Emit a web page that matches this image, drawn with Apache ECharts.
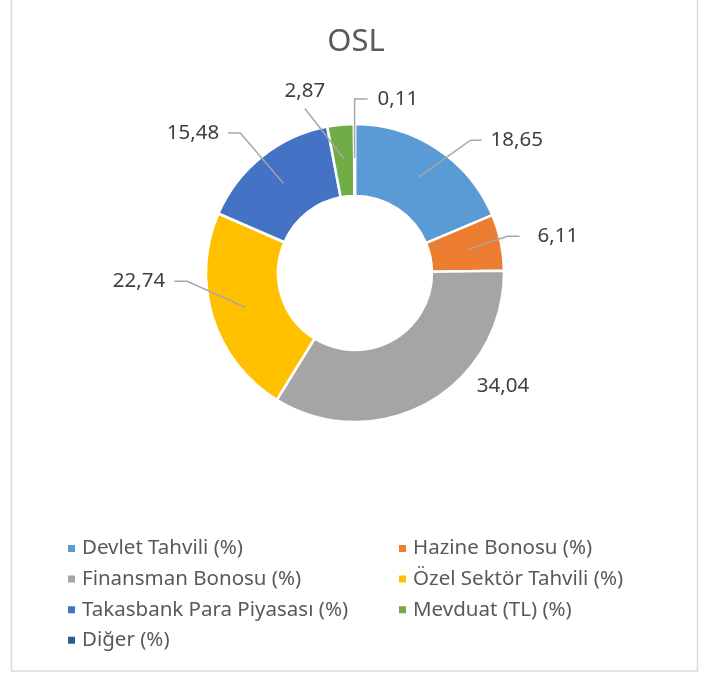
<!DOCTYPE html>
<html>
<head>
<meta charset="utf-8">
<script src="https://cdn.jsdelivr.net/npm/echarts@6/dist/echarts.min.js"></script>
<style>
html,body{margin:0;padding:0;background:#fff;}
#c{width:712px;height:675px;}
</style>
</head>
<body>
<div id="c"></div>
<script>
// ---- data ----
var titleText = 'OSL';
var categories = ['Devlet Tahvili (%)', 'Hazine Bonosu (%)', 'Finansman Bonosu (%)', 'Özel Sektör Tahvili (%)', 'Takasbank Para Piyasası (%)', 'Mevduat (TL) (%)', 'Diğer (%)'];
var values = [18.65, 6.11, 34.04, 22.74, 15.48, 2.87, 0.11];
var colors = ['#5B9BD5', '#ED7D31', '#A5A5A5', '#FFC000', '#4472C4', '#70AD47', '#255E91'];
var legendLeft = ['Devlet Tahvili (%)', 'Finansman Bonosu (%)', 'Takasbank Para Piyasası (%)', 'Diğer (%)'];
var legendRight = ['Hazine Bonosu (%)', 'Özel Sektör Tahvili (%)', 'Mevduat (TL) (%)'];

// ---- label placement styles (offset of leader end from leader start, gap, elbow, mode) ----
var labelStyles = [
  {dx: 63, dy: -37, gap: 9, elbow: 11, mode: 'side'},
  {dx: 52, dy: -13, gap: 18, elbow: 12, mode: 'side'},
  {dx: 65, dy: 13, gap: 0, elbow: 0, mode: 'noline'},
  {dx: -71, dy: -26, gap: 9, elbow: 13, mode: 'side'},
  {dx: -55, dy: -50, gap: 9, elbow: 12, mode: 'side'},
  {dx: -39, dy: -50, gap: 17, elbow: 0, mode: 'above'},
  {dx: 13, dy: -59, gap: 10, elbow: 13, mode: 'side'}
];

var pieData = categories.map(function (n, i) {
  return {name: n, value: values[i], itemStyle: {color: colors[i]}};
});
var labelData = categories.map(function (n, i) {
  return {name: n, value: values[i]};
});

var fontFam = '"Noto Sans", "Open Sans", sans-serif';
var chart = echarts.init(document.getElementById('c'), null, {renderer: 'canvas'});

var legendCommon = {
  orient: 'vertical',
  icon: 'rect',
  itemWidth: 9,
  itemHeight: 9,
  itemGap: 9.6,
  padding: 0,
  selectedMode: false,
  textStyle: {color: '#595959', fontSize: 20.5, fontFamily: fontFam, padding: [0, 0, 0, 1]}
};

chart.setOption({
  backgroundColor: '#ffffff',
  animation: false,
  title: {
    text: titleText,
    left: 'center',
    top: 22,
    textStyle: {color: '#595959', fontSize: 31, fontWeight: 'normal', fontFamily: fontFam}
  },
  legend: [
    Object.assign({}, legendCommon, {data: legendLeft, left: 66, top: 538}),
    Object.assign({}, legendCommon, {data: legendRight, left: 397, top: 538})
  ],
  graphic: [{
    type: 'rect',
    silent: true,
    z: -10,
    shape: {x: 11.5, y: -5, width: 686, height: 676},
    style: {fill: 'none', stroke: '#d9d9d9', lineWidth: 1.5}
  }],
  series: [
    {
      type: 'pie',
      center: [355, 273],
      radius: [77, 149],
      startAngle: 90,
      clockwise: true,
      avoidLabelOverlap: false,
      silent: true,
      label: {show: false},
      labelLine: {show: false},
      itemStyle: {borderColor: '#ffffff', borderWidth: 2.5},
      emphasis: {disabled: true},
      data: pieData
    },
    {
      type: 'pie',
      center: [355, 273],
      radius: [0, 115],
      startAngle: 90,
      clockwise: true,
      avoidLabelOverlap: false,
      silent: true,
      z: 5,
      itemStyle: {color: 'rgba(0,0,0,0)', borderWidth: 0},
      emphasis: {disabled: true},
      label: {
        show: true,
        position: 'outside',
        color: '#404040',
        fontSize: 20.5,
        fontFamily: fontFam,
        formatter: function (p) { return p.value.toFixed(2).replace('.', ','); }
      },
      labelLine: {show: true, length: 10, length2: 10, lineStyle: {color: '#A6A6A6', width: 1.5, opacity: 1}},
      labelLayout: function (params) {
        var s = labelStyles[params.dataIndex];
        var pts = params.labelLinePoints;
        if (!pts || !s) return {};
        var p0 = pts[0];
        var ex = p0[0] + s.dx, ey = p0[1] + s.dy;
        if (s.mode === 'noline') {
          return {x: ex, y: ey, align: 'left', verticalAlign: 'middle', labelLinePoints: [p0, p0, p0]};
        }
        if (s.mode === 'above') {
          return {x: ex, y: ey - s.gap, align: 'center', verticalAlign: 'middle', labelLinePoints: [p0, [ex, ey], [ex, ey]]};
        }
        var dir = s.dx >= 0 ? 1 : -1;
        return {
          x: ex + dir * s.gap,
          y: ey,
          align: dir > 0 ? 'left' : 'right',
          verticalAlign: 'middle',
          labelLinePoints: [p0, [ex - dir * s.elbow, ey], [ex, ey]]
        };
      },
      data: labelData
    }
  ]
});
</script>
</body>
</html>
